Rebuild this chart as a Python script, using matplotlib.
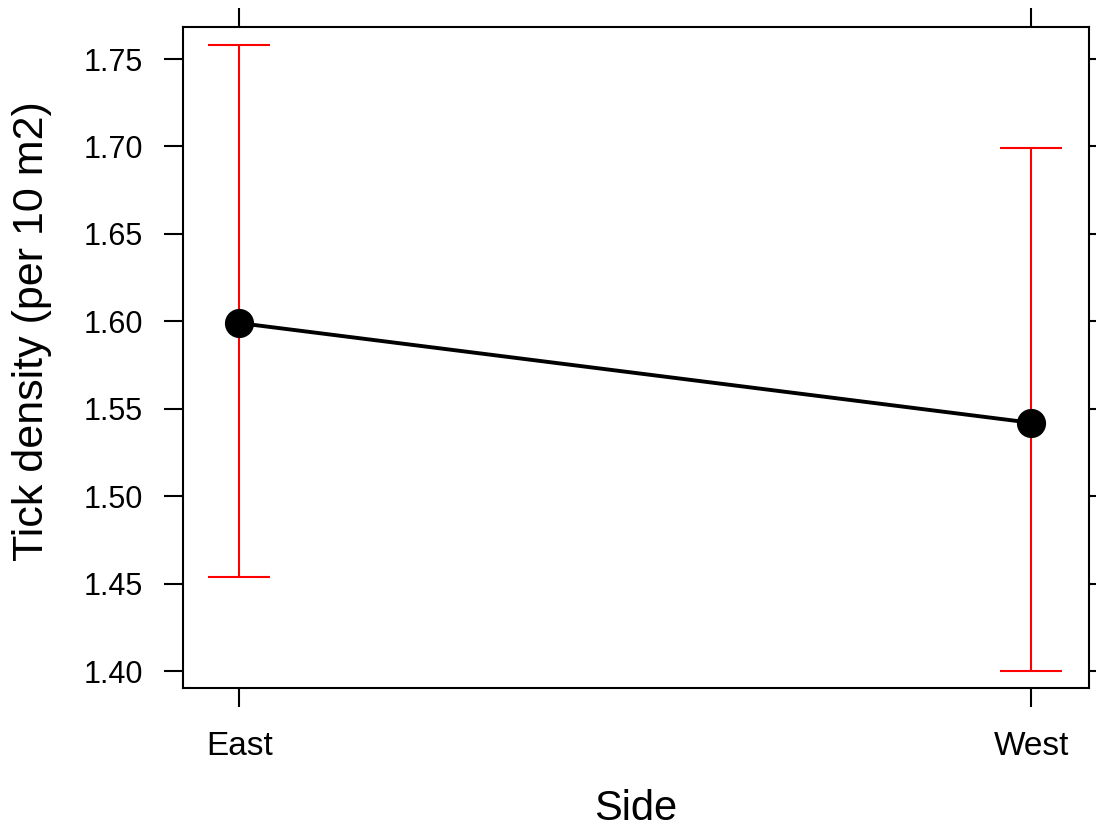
import matplotlib.pyplot as plt

plt.rcParams['font.family'] = ['Liberation Sans', 'DejaVu Sans']

sides = ['East', 'West']
xpos = [1, 2]
density = [1.599, 1.542]
upper = [1.758, 1.699]
lower = [1.454, 1.400]
yticks = [1.40, 1.45, 1.50, 1.55, 1.60, 1.65, 1.70, 1.75]

err_lo = [d - l for d, l in zip(density, lower)]
err_hi = [u - d for u, d in zip(upper, density)]

fig = plt.figure(figsize=(10.96, 8.31), dpi=100)
ax = fig.add_axes([0.167, 0.172, 0.8266, 0.7955])

ax.errorbar(xpos, density, yerr=[err_lo, err_hi], fmt='none', ecolor='#ff0000',
            elinewidth=1.5, capsize=22, capthick=1.5, zorder=1)
ax.plot(xpos, density, color='black', lw=2.8, marker='o', markersize=20, zorder=2)

ax.set_xlim(0.929, 2.073)
ax.set_ylim(1.3903, 1.7683)
ax.set_xticks(xpos)
ax.set_xticklabels(sides)
ax.set_yticks(yticks)
ax.set_yticklabels([f'{t:.2f}' for t in yticks])

ax.tick_params(axis='both', which='both', direction='out', length=14, width=1.5,
               top=True, right=True)
ax.tick_params(axis='x', labelsize=24, pad=17)
ax.tick_params(axis='y', labelsize=22, pad=15, labelright=False)
for s in ax.spines.values():
    s.set_linewidth(1.5)

ax.set_xlabel('Side', fontsize=30)
ax.set_ylabel('Tick density (per 10 m2)', fontsize=31)
ax.xaxis.set_label_coords(0.5, -0.152)
ax.yaxis.set_label_coords(-0.145, 0.54)

fig.savefig('out.png', dpi=100)
